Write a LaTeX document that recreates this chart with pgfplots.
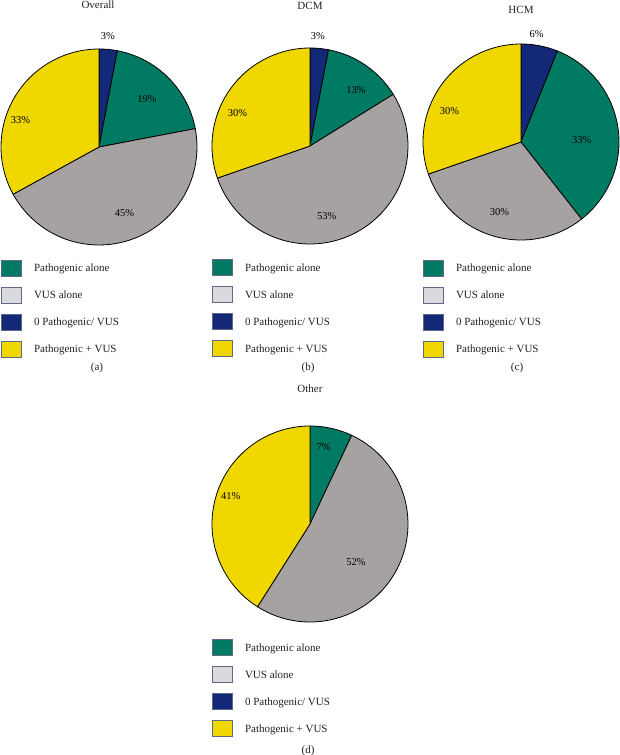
\documentclass[border=0pt]{standalone}
\usepackage{pgfplots}
\pgfplotsset{compat=1.18}
\usepackage{fontspec}
\setmainfont{Liberation Serif}
\definecolor{pgreen}{RGB}{0,122,98}
\definecolor{pgray}{RGB}{166,162,162}
\definecolor{plgray}{RGB}{218,218,222}
\definecolor{pblue}{RGB}{20,40,120}
\definecolor{pyellow}{RGB}{240,215,0}
\definecolor{legborder}{RGB}{95,105,135}
\definecolor{txt}{RGB}{35,31,32}
% slice: start cumulative, end cumulative, colour, total
\newcommand{\pieslice}[4]{%
  \addplot[forget plot, draw=black, line width=0.8bp, fill=#3,
    domain={#1*360/#4}:{#2*360/#4}, samples=60, variable=\t]
    ({sin(\t)},{cos(\t)}) -- (axis cs:0,0) -- cycle;}
\newcommand{\pielegend}{%
  \addlegendimage{fill=pgreen}
  \addlegendimage{fill=plgray}
  \addlegendimage{fill=pblue}
  \addlegendimage{fill=pyellow}
  \legend{Pathogenic alone, VUS alone, 0 Pathogenic/ VUS, Pathogenic + VUS}}
\tikzset{
  lab/.style={font=\fontsize{10.5bp}{12bp}\selectfont, text=black},
  ttl/.style={font=\fontsize{11bp}{13bp}\selectfont, text=txt},
}
\pgfplotsset{
  pie/.style={
    scale only axis, width=196bp, height=196bp,
    xmin=-1, xmax=1, ymin=-1, ymax=1,
    hide axis, clip=false, anchor=center,
    legend image code/.code={\draw[##1, draw=legborder, line width=1bp] (0bp,-8bp) rectangle (20bp,8bp);},
    legend style={draw=none, fill=none, inner sep=0pt, outer sep=0pt,
      anchor=north west, row sep=10bp, legend cell align=left,
      font=\fontsize{11bp}{13bp}\selectfont\color{txt},
      nodes={inner sep=0pt},
      /tikz/every odd column/.append style={column sep=12bp}},
  },
}
\begin{document}
\begin{tikzpicture}
\useasboundingbox (0,0) rectangle (620bp,-755bp);
% (a) Overall
\begin{axis}[pie, at={(99bp,-147bp)}, legend style={at={(0,-0.074)}}]
  \pieslice{0}{3}{pblue}{100}
  \pieslice{3}{22}{pgreen}{100}
  \pieslice{22}{67}{pgray}{100}
  \pieslice{67}{100}{pyellow}{100}
  \pielegend
  \node[ttl] at (axis cs:-0.01,1.45) {Overall};
  \node[lab] at (axis cs:0.09,1.13) {3\%};
  \node[lab] at (axis cs:0.49,0.49) {19\%};
  \node[lab] at (axis cs:0.26,-0.67) {45\%};
  \node[lab] at (axis cs:-0.80,0.27) {33\%};
  \node[ttl] at (axis cs:-0.02,-2.255) {(a)};
\end{axis}
% (b) DCM
\begin{axis}[pie, at={(310bp,-146bp)}, legend style={at={(0,-0.079)}}]
  \pieslice{0}{3}{pblue}{99}
  \pieslice{3}{16}{pgreen}{99}
  \pieslice{16}{69}{pgray}{99}
  \pieslice{69}{99}{pyellow}{99}
  \pielegend
  \node[ttl] at (axis cs:0,1.43) {DCM};
  \node[lab] at (axis cs:0.08,1.12) {3\%};
  \node[lab] at (axis cs:0.47,0.57) {13\%};
  \node[lab] at (axis cs:0.17,-0.72) {53\%};
  \node[lab] at (axis cs:-0.74,0.34) {30\%};
  \node[ttl] at (axis cs:-0.02,-2.265) {(b)};
\end{axis}
% (c) HCM
\begin{axis}[pie, at={(521bp,-142bp)}, legend style={at={(0,-0.0995)}}]
  \pieslice{0}{6}{pblue}{99}
  \pieslice{6}{39}{pgreen}{99}
  \pieslice{39}{69}{pgray}{99}
  \pieslice{69}{99}{pyellow}{99}
  \pielegend
  \node[ttl] at (axis cs:0,1.35) {HCM};
  \node[lab] at (axis cs:0.16,1.10) {6\%};
  \node[lab] at (axis cs:0.62,0.02) {33\%};
  \node[lab] at (axis cs:-0.22,-0.71) {30\%};
  \node[lab] at (axis cs:-0.73,0.32) {30\%};
  \node[ttl] at (axis cs:-0.04,-2.306) {(c)};
\end{axis}
% (d) Other
\begin{axis}[pie, at={(310bp,-524bp)}, legend style={at={(0,-0.089)}}]
  \pieslice{0}{7}{pgreen}{100}
  \pieslice{7}{59}{pgray}{100}
  \pieslice{59}{100}{pyellow}{100}
  \pielegend
  \node[ttl] at (axis cs:0,1.38) {Other};
  \node[lab] at (axis cs:0.14,0.78) {7\%};
  \node[lab] at (axis cs:0.47,-0.39) {52\%};
  \node[lab] at (axis cs:-0.81,0.29) {41\%};
  \node[ttl] at (axis cs:-0.02,-2.316) {(d)};
\end{axis}
\end{tikzpicture}
\end{document}
